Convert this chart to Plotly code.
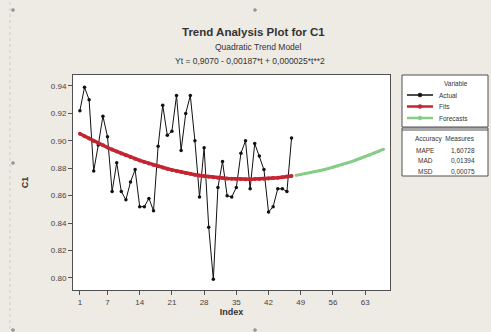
import plotly.graph_objects as go

# ---- data ----
actual_index = list(range(1, 48))
actual_values = [0.922, 0.939, 0.930, 0.878, 0.897, 0.918, 0.903, 0.863, 0.884, 0.863,
                 0.857, 0.870, 0.879, 0.852, 0.852, 0.858, 0.849, 0.896, 0.926, 0.904,
                 0.907, 0.933, 0.893, 0.920, 0.933, 0.900, 0.859, 0.895, 0.837, 0.799,
                 0.866, 0.885, 0.860, 0.859, 0.866, 0.891, 0.900, 0.865, 0.898, 0.889,
                 0.879, 0.848, 0.852, 0.865, 0.865, 0.863, 0.902]
fit_values = [0.9052, 0.9034, 0.9016, 0.8999, 0.8983, 0.8967, 0.8951, 0.8936, 0.8922, 0.8908,
              0.8895, 0.8882, 0.8869, 0.8857, 0.8846, 0.8835, 0.8824, 0.8814, 0.8805, 0.8796,
              0.8788, 0.8780, 0.8772, 0.8765, 0.8759, 0.8753, 0.8747, 0.8742, 0.8738, 0.8734,
              0.8731, 0.8728, 0.8725, 0.8723, 0.8722, 0.8721, 0.8720, 0.8720, 0.8721, 0.8722,
              0.8724, 0.8726, 0.8728, 0.8731, 0.8735, 0.8739, 0.8743]
forecast_index = list(range(48, 68))
forecast_values = [0.8748, 0.8754, 0.8760, 0.8767, 0.8774, 0.8781, 0.8789, 0.8798, 0.8807, 0.8816,
                   0.8826, 0.8837, 0.8848, 0.8860, 0.8872, 0.8884, 0.8897, 0.8911, 0.8925, 0.8939]
x_ticks = [1, 7, 14, 21, 28, 35, 42, 49, 56, 63]
y_ticks = [0.80, 0.82, 0.84, 0.86, 0.88, 0.90, 0.92, 0.94]
series_names = ["Actual", "Fits", "Forecasts"]
series_colors = ["#111111", "#C42530", "#86CC86"]
measure_names = ["MAPE", "MAD", "MSD"]
measure_values = ["1,60728", "0,01394", "0,00075"]

W, H = 491, 332
L, R, T, B = 73, 390, 75, 290
FONT = "Liberation Sans"
GREY = "#505050"

fig = go.Figure()
fig.add_trace(go.Scatter(x=actual_index, y=actual_values, name=series_names[0], mode="lines+markers",
                         line=dict(color=series_colors[0], width=1),
                         marker=dict(color=series_colors[0], size=3.5)))
fig.add_trace(go.Scatter(x=actual_index, y=fit_values, name=series_names[1], mode="lines+markers",
                         line=dict(color=series_colors[1], width=3.5),
                         marker=dict(color=series_colors[1], size=4)))
fig.add_trace(go.Scatter(x=forecast_index, y=forecast_values, name=series_names[2], mode="lines+markers",
                         line=dict(color=series_colors[2], width=3),
                         marker=dict(color=series_colors[2], size=3)))

fig.update_layout(
    width=W, height=H,
    margin=dict(l=L, r=W - R, t=T, b=H - B, pad=0),
    paper_bgcolor="#EEEAE4", plot_bgcolor="white",
    font=dict(family=FONT, size=8, color="#333333"),
    showlegend=False,
    xaxis=dict(range=[-0.5, 68.4], tickvals=x_ticks, ticks="outside", ticklen=4,
               tickcolor=GREY, showgrid=False, zeroline=False, showline=True,
               linecolor=GREY, linewidth=1, mirror=True,
               tickfont=dict(size=8, color="#444"),
               title=dict(text="<b>Index</b>", font=dict(size=9, color="#333"), standoff=2)),
    yaxis=dict(range=[0.7912, 0.948], tickvals=y_ticks, tickformat=".2f", ticks="outside",
               ticklen=4, tickcolor=GREY, showgrid=False, zeroline=False, showline=True,
               linecolor=GREY, linewidth=1, mirror=True,
               tickfont=dict(size=8, color="#444"),
               title=dict(text="<b>C1</b>", font=dict(size=9, color="#333"), standoff=20)),
)

def px(x):
    return (x - L) / (R - L)

def py(y):
    return (B - y) / (B - T)

def text(t, x, y, size, anchor="center"):
    fig.add_annotation(text=t, x=px(x), y=py(y), xref="paper", yref="paper",
                       showarrow=False, xanchor=anchor, yanchor="middle",
                       font=dict(size=size, color="#333", family=FONT))

text("<b>Trend Analysis Plot for C1</b>", 253, 32, 11.5)
text("Quadratic Trend Model", 258, 47, 8.5)
text("Yt = 0,9070 - 0,00187*t + 0,000025*t**2", 250, 61, 8.5)

# legend box (Variable)
fig.add_shape(type="rect", xref="paper", yref="paper", x0=px(402), x1=px(488),
              y0=py(127), y1=py(75), line=dict(color=GREY, width=1), fillcolor="white",
              layer="below")
text("Variable", 456, 83, 6.5)
for i, (n, c) in enumerate(zip(series_names, series_colors)):
    yy = 95 + i * 11.5
    fig.add_shape(type="line", xref="paper", yref="paper", x0=px(407), x1=px(433),
                  y0=py(yy), y1=py(yy), line=dict(color=c, width=1.5 if i == 0 else 2.5))
    fig.add_shape(type="circle", xref="paper", yref="paper", x0=px(418), x1=px(422),
                  y0=py(yy + 2), y1=py(yy - 2), line=dict(color=c, width=0.5), fillcolor=c)
    text(n, 437, yy, 6.5, anchor="left")

# accuracy box
fig.add_shape(type="rect", xref="paper", yref="paper", x0=px(402), x1=px(488),
              y0=py(176), y1=py(128), line=dict(color=GREY, width=1), fillcolor="white",
              layer="below")
fig.add_shape(type="line", xref="paper", yref="paper", x0=px(402), x1=px(488),
              y0=py(130), y1=py(130), line=dict(color=GREY, width=1))
text("Accuracy  Measures", 445, 139, 6.5)
for i, (n, v) in enumerate(zip(measure_names, measure_values)):
    text(n, 425, 150 + i * 10.5, 6.5)
    text(v, 463, 150 + i * 10.5, 6.5)

# decorative handles of the graph window
for hx, hy in [(13, 10), (13, 163), (13, 330), (255, 10), (255, 330)]:
    fig.add_shape(type="circle", xref="paper", yref="paper",
                  x0=px(hx - 1.5), x1=px(hx + 1.5), y0=py(hy + 1.5), y1=py(hy - 1.5),
                  line=dict(color="#888", width=0.5), fillcolor="#999")
fig.add_shape(type="line", xref="paper", yref="paper", x0=px(10), x1=px(10),
              y0=py(2), y1=py(330), line=dict(color="#CFCAC3", width=1, dash="dot"))

fig.write_html("out.html", config={"displayModeBar": False},
               post_script="document.body.style.margin='0';document.body.style.overflow='hidden';")
